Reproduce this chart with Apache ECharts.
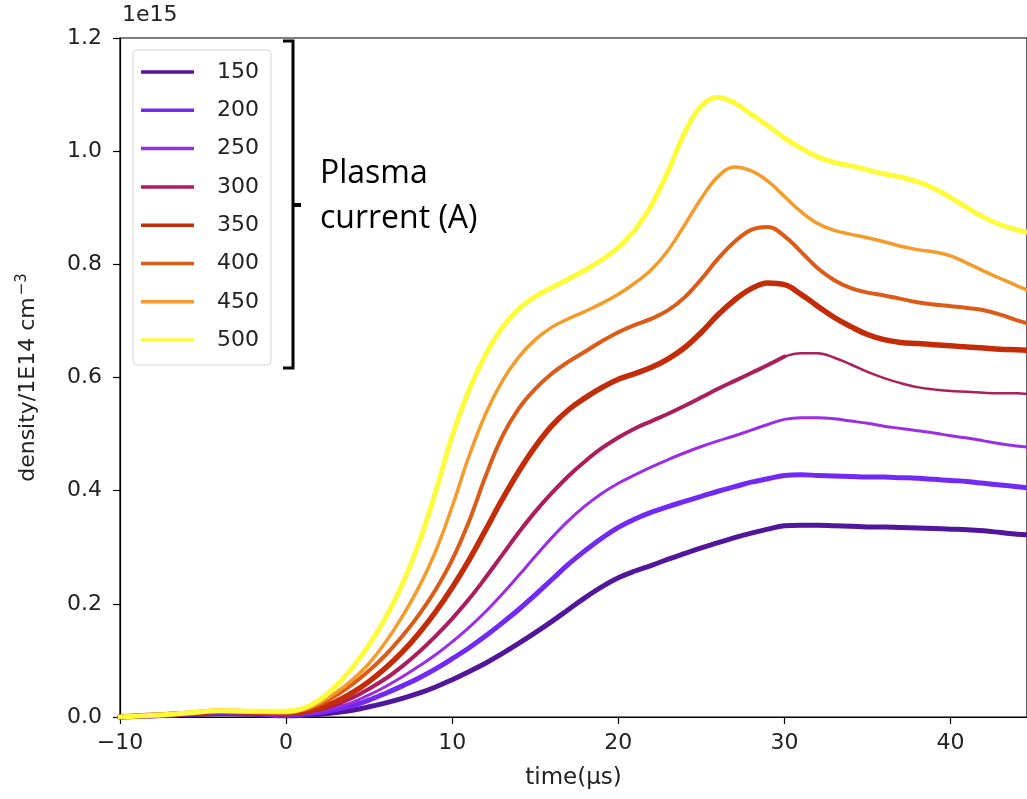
<!DOCTYPE html>
<html>
<head>
<meta charset="utf-8">
<script src="https://cdn.jsdelivr.net/npm/echarts@6/dist/echarts.min.js"></script>
<style>
  html, body { margin: 0; padding: 0; background: #fff; }
  #chart { width: 1027px; height: 799px; }
</style>
</head>
<body>
<div id="chart"></div>
<script>
// Electron density (units of 1e15) versus time for several plasma currents.
const time = [-10, -8, -6, -4, -2, 0, 1, 2, 3, 4, 5, 6, 7, 8, 9, 10, 11, 12, 13, 14, 15, 16, 17, 18, 19, 20,
  21, 22, 23, 24, 25, 26, 27, 28, 29, 30, 31, 32, 33, 34, 35, 36, 37, 38, 39, 40, 41, 42, 43, 44, 44.6];

const currents = ['150', '200', '250', '300', '350', '400', '450', '500'];
const colors = ['#52169c', '#7229f3', '#9a2ee4', '#ab1d5c', '#c42c08', '#dc5b19', '#f39c2c', '#fdfb3a'];
const widths = [5, 5, 3, 4, 5.5, 4, 3.5, 5];

const n150 = [0.000, 0.002, 0.004, 0.006, 0.005, 0.002, 0.003, 0.005, 0.008, 0.012, 0.018, 0.025, 0.033, 0.042, 0.053, 0.066,
  0.080, 0.095, 0.112, 0.130, 0.149, 0.169, 0.190, 0.211, 0.230, 0.246, 0.258, 0.268, 0.279, 0.289, 0.299, 0.308, 0.317,
  0.325, 0.332, 0.338, 0.339, 0.339, 0.338, 0.337, 0.336, 0.336, 0.335, 0.334, 0.333, 0.332, 0.331, 0.329, 0.326, 0.323, 0.322];
const n200 = [0.000, 0.002, 0.005, 0.007, 0.006, 0.003, 0.005, 0.008, 0.013, 0.020, 0.030, 0.042, 0.055, 0.069, 0.085, 0.103,
  0.122, 0.143, 0.166, 0.190, 0.216, 0.243, 0.270, 0.294, 0.316, 0.335, 0.350, 0.362, 0.372, 0.381, 0.390, 0.399, 0.407,
  0.415, 0.421, 0.427, 0.428, 0.427, 0.426, 0.425, 0.424, 0.424, 0.423, 0.422, 0.420, 0.418, 0.416, 0.413, 0.410, 0.407, 0.405];
const n250 = [0.000, 0.002, 0.005, 0.008, 0.007, 0.004, 0.006, 0.010, 0.017, 0.026, 0.039, 0.054, 0.071, 0.090, 0.110, 0.133,
  0.158, 0.186, 0.217, 0.250, 0.284, 0.317, 0.347, 0.373, 0.395, 0.413, 0.428, 0.442, 0.455, 0.467, 0.478, 0.488, 0.497,
  0.507, 0.517, 0.526, 0.529, 0.529, 0.527, 0.523, 0.519, 0.514, 0.510, 0.506, 0.502, 0.497, 0.493, 0.488, 0.483, 0.479, 0.477];
const n300 = [0.000, 0.003, 0.006, 0.009, 0.008, 0.005, 0.008, 0.013, 0.022, 0.034, 0.050, 0.068, 0.090, 0.115, 0.143, 0.174,
  0.208, 0.246, 0.286, 0.326, 0.363, 0.396, 0.426, 0.452, 0.475, 0.494, 0.510, 0.523, 0.536, 0.550, 0.565, 0.580, 0.594,
  0.608, 0.622, 0.637, 0.643, 0.643, 0.635, 0.623, 0.610, 0.599, 0.590, 0.583, 0.579, 0.576, 0.575, 0.573, 0.572, 0.572, 0.571];
const n350 = [0.000, 0.003, 0.006, 0.010, 0.009, 0.006, 0.009, 0.016, 0.027, 0.043, 0.063, 0.087, 0.115, 0.148, 0.186, 0.229,
  0.277, 0.330, 0.384, 0.434, 0.478, 0.515, 0.543, 0.564, 0.582, 0.597, 0.607, 0.618, 0.633, 0.653, 0.680, 0.711, 0.737,
  0.757, 0.767, 0.764, 0.747, 0.726, 0.706, 0.690, 0.676, 0.667, 0.662, 0.660, 0.658, 0.656, 0.654, 0.652, 0.650, 0.649, 0.648];
const n400 = [0.000, 0.003, 0.006, 0.010, 0.009, 0.007, 0.012, 0.022, 0.038, 0.058, 0.082, 0.110, 0.143, 0.181, 0.225, 0.278,
  0.345, 0.425, 0.495, 0.545, 0.580, 0.607, 0.628, 0.646, 0.664, 0.680, 0.693, 0.704, 0.719, 0.742, 0.774, 0.810, 0.840,
  0.861, 0.866, 0.850, 0.822, 0.793, 0.772, 0.758, 0.750, 0.745, 0.739, 0.733, 0.729, 0.726, 0.723, 0.719, 0.711, 0.701, 0.696];
const n450 = [0.000, 0.003, 0.007, 0.010, 0.009, 0.008, 0.013, 0.025, 0.043, 0.066, 0.095, 0.133, 0.178, 0.230, 0.293, 0.372,
  0.460, 0.535, 0.593, 0.636, 0.667, 0.689, 0.704, 0.717, 0.731, 0.747, 0.767, 0.791, 0.825, 0.870, 0.917, 0.955, 0.972,
  0.965, 0.947, 0.920, 0.893, 0.872, 0.860, 0.853, 0.847, 0.840, 0.832, 0.826, 0.822, 0.815, 0.802, 0.788, 0.775, 0.762, 0.755];
const n500 = [0.000, 0.003, 0.007, 0.011, 0.010, 0.010, 0.015, 0.030, 0.055, 0.088, 0.128, 0.176, 0.235, 0.308, 0.398, 0.497,
  0.577, 0.640, 0.688, 0.721, 0.743, 0.759, 0.774, 0.790, 0.808, 0.830, 0.861, 0.905, 0.965, 1.033, 1.080, 1.095, 1.085,
  1.065, 1.045, 1.023, 1.005, 0.990, 0.980, 0.974, 0.967, 0.960, 0.954, 0.946, 0.934, 0.918, 0.900, 0.883, 0.870, 0.861, 0.857];

const xTicks = [-10, 0, 10, 20, 30, 40];
const yTicks = [0.0, 0.2, 0.4, 0.6, 0.8, 1.0, 1.2];

const values = [n150, n200, n250, n300, n350, n400, n450, n500];
const pairs = (arr, from, to) => time.map((t, i) => (i >= from && i <= to) ? [t, arr[i]] : null).filter(p => p);
const splitIdx = time.indexOf(30);

const series = [];
currents.forEach((name, k) => {
  const base = {
    name: name, type: 'line', smooth: 0.4, symbol: 'none',
    lineStyle: { color: colors[k], width: widths[k], cap: 'round', join: 'round' },
    itemStyle: { color: colors[k] }, emphasis: { disabled: true }, silent: true
  };
  if (name === '300') {
    // the 300 A trace is heavier up to 30 µs, then continues as a thinner line
    series.push(Object.assign({}, base, { data: pairs(values[k], 0, splitIdx) }));
    series.push(Object.assign({}, base, {
      lineStyle: Object.assign({}, base.lineStyle, { width: 2.5 }),
      data: pairs(values[k], splitIdx, time.length - 1)
    }));
  } else {
    series.push(Object.assign({}, base, { data: pairs(values[k], 0, time.length - 1) }));
  }
});

const font = 'DejaVu Sans';
const chart = echarts.init(document.getElementById('chart'), null, { renderer: 'canvas' });
chart.setOption({
  animation: false,
  backgroundColor: '#fff',
  grid: { left: 120, top: 38, bottom: 82, right: -2, show: true, borderColor: '#000', borderWidth: 1.2, backgroundColor: 'transparent' },
  xAxis: {
    type: 'value', min: -10, max: 44.6, interval: 10,
    name: 'time(\u03bcs)', nameLocation: 'middle', nameGap: 50,
    nameTextStyle: { fontFamily: font, fontSize: 23, color: '#222' },
    axisLine: { show: true, onZero: false, lineStyle: { color: '#000', width: 1.2 } },
    axisTick: { show: true, inside: false, length: 7, lineStyle: { color: '#000', width: 1.2 } },
    axisLabel: {
      showMaxLabel: false, margin: 15, fontFamily: font, fontSize: 22, color: '#222',
      formatter: v => xTicks.includes(v) ? (v < 0 ? '\u2212' + Math.abs(v) : String(v)) : ''
    },
    splitLine: { show: false }
  },
  yAxis: {
    type: 'value', min: 0, max: 1.2, interval: 0.2,
    name: '{n|density/1E14 cm}{s|\u22123}', nameLocation: 'middle', nameGap: 78,
    nameTextStyle: {
      rich: {
        n: { fontFamily: font, fontSize: 22, color: '#222' },
        s: { fontFamily: font, fontSize: 15, color: '#222', verticalAlign: 'top', padding: [0, 0, 12, 2] }
      }
    },
    axisLine: { show: true, onZero: false, lineStyle: { color: '#000', width: 1.2 } },
    axisTick: { show: true, inside: false, length: 7, lineStyle: { color: '#000', width: 1.2 } },
    axisLabel: {
      margin: 18, fontFamily: font, fontSize: 22, color: '#222',
      formatter: v => yTicks.some(t => Math.abs(t - v) < 1e-9) ? v.toFixed(1) : ''
    },
    splitLine: { show: false }
  },
  legend: {
    data: currents, orient: 'vertical', left: 133, top: 50, icon: 'rect',
    padding: [11, 12, 14, 8], itemGap: 16.3, itemWidth: 53, itemHeight: 3.5,
    backgroundColor: 'rgba(255,255,255,0.85)', borderColor: '#d6d6d6', borderWidth: 1, borderRadius: 4,
    textStyle: { fontFamily: font, fontSize: 22, color: '#222', lineHeight: 22, padding: [0, 0, 0, 18] },
    selectedMode: false
  },
  graphic: [
    { type: 'text', left: 122, top: 4, style: { text: '1e15', font: '22px "DejaVu Sans"', fill: '#222' } },
    { type: 'polyline', shape: { points: [[283, 41], [293, 41], [293, 368], [283, 368]] },
      style: { stroke: '#000', lineWidth: 3, fill: null } },
    { type: 'line', shape: { x1: 293, y1: 205, x2: 301, y2: 205 }, style: { stroke: '#000', lineWidth: 4 } },
    { type: 'text', x: 320, y: 174, style: { text: 'Plasma', font: '32px "Open Sans"', fill: '#000', verticalAlign: 'middle' } },
    { type: 'text', x: 320, y: 219, style: { text: 'current (A)', font: '32px "Open Sans"', fill: '#000', verticalAlign: 'middle' } }
  ],
  series: series
});
</script>
</body>
</html>
